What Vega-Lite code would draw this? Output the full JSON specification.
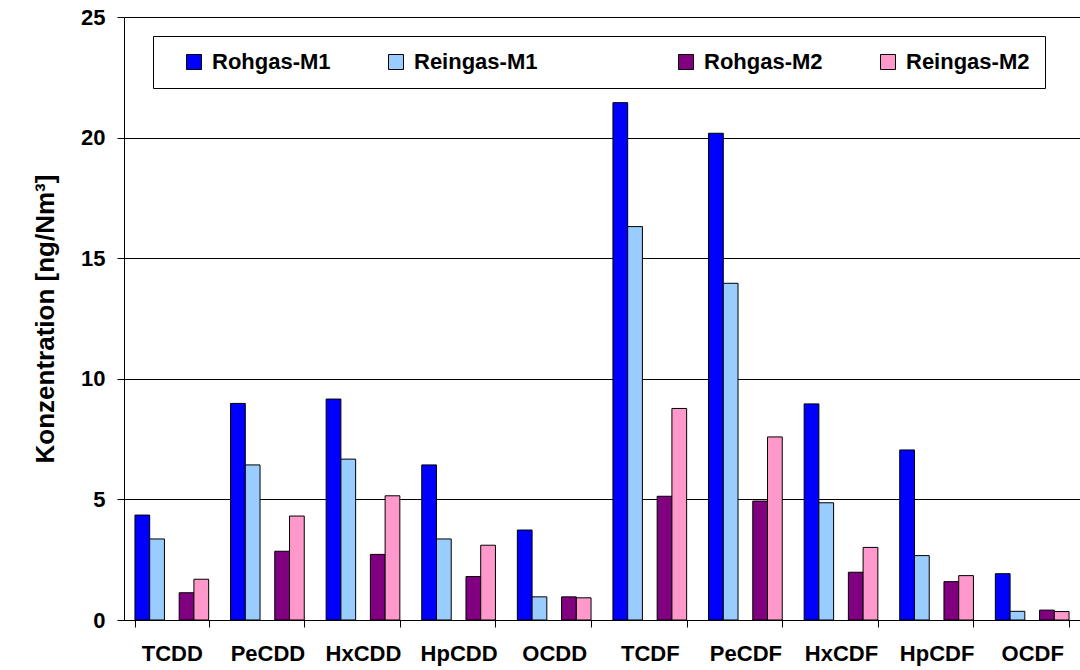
{
  "$schema": "https://vega.github.io/schema/vega-lite/v6.json",
  "width": 956,
  "height": 603,
  "autosize": {"type": "none"},
  "padding": {"left": 124, "top": 17, "right": 0, "bottom": 50},
  "background": "white",
  "config": {"view": {"stroke": null}, "font": "Liberation Sans"},
  "data": {"values": [
    {"cat": "TCDD", "series": "Rohgas-M1", "value": 4.35},
    {"cat": "TCDD", "series": "Reingas-M1", "value": 3.36},
    {"cat": "TCDD", "series": "Rohgas-M2", "value": 1.13},
    {"cat": "TCDD", "series": "Reingas-M2", "value": 1.69},
    {"cat": "PeCDD", "series": "Rohgas-M1", "value": 8.98},
    {"cat": "PeCDD", "series": "Reingas-M1", "value": 6.43},
    {"cat": "PeCDD", "series": "Rohgas-M2", "value": 2.85},
    {"cat": "PeCDD", "series": "Reingas-M2", "value": 4.31},
    {"cat": "HxCDD", "series": "Rohgas-M1", "value": 9.16},
    {"cat": "HxCDD", "series": "Reingas-M1", "value": 6.67},
    {"cat": "HxCDD", "series": "Rohgas-M2", "value": 2.72},
    {"cat": "HxCDD", "series": "Reingas-M2", "value": 5.15},
    {"cat": "HpCDD", "series": "Rohgas-M1", "value": 6.43},
    {"cat": "HpCDD", "series": "Reingas-M1", "value": 3.36},
    {"cat": "HpCDD", "series": "Rohgas-M2", "value": 1.80},
    {"cat": "HpCDD", "series": "Reingas-M2", "value": 3.10},
    {"cat": "OCDD", "series": "Rohgas-M1", "value": 3.73},
    {"cat": "OCDD", "series": "Reingas-M1", "value": 0.96},
    {"cat": "OCDD", "series": "Rohgas-M2", "value": 0.96},
    {"cat": "OCDD", "series": "Reingas-M2", "value": 0.92},
    {"cat": "TCDF", "series": "Rohgas-M1", "value": 21.45},
    {"cat": "TCDF", "series": "Reingas-M1", "value": 16.31},
    {"cat": "TCDF", "series": "Rohgas-M2", "value": 5.13},
    {"cat": "TCDF", "series": "Reingas-M2", "value": 8.77},
    {"cat": "PeCDF", "series": "Rohgas-M1", "value": 20.18},
    {"cat": "PeCDF", "series": "Reingas-M1", "value": 13.96},
    {"cat": "PeCDF", "series": "Rohgas-M2", "value": 4.93},
    {"cat": "PeCDF", "series": "Reingas-M2", "value": 7.59},
    {"cat": "HxCDF", "series": "Rohgas-M1", "value": 8.96},
    {"cat": "HxCDF", "series": "Reingas-M1", "value": 4.86},
    {"cat": "HxCDF", "series": "Rohgas-M2", "value": 1.98},
    {"cat": "HxCDF", "series": "Reingas-M2", "value": 3.01},
    {"cat": "HpCDF", "series": "Rohgas-M1", "value": 7.05},
    {"cat": "HpCDF", "series": "Reingas-M1", "value": 2.67},
    {"cat": "HpCDF", "series": "Rohgas-M2", "value": 1.59},
    {"cat": "HpCDF", "series": "Reingas-M2", "value": 1.84},
    {"cat": "OCDF", "series": "Rohgas-M1", "value": 1.92},
    {"cat": "OCDF", "series": "Reingas-M1", "value": 0.36},
    {"cat": "OCDF", "series": "Rohgas-M2", "value": 0.41},
    {"cat": "OCDF", "series": "Reingas-M2", "value": 0.35}
  ]},
  "mark": {"type": "bar", "stroke": "#000", "strokeWidth": 1},
  "encoding": {
    "x": {
      "field": "cat", "type": "nominal",
      "sort": ["TCDD", "PeCDD", "HxCDD", "HpCDD", "OCDD", "TCDF", "PeCDF", "HxCDF", "HpCDF", "OCDF"],
      "scale": {"paddingInner": 0.229, "paddingOuter": 0.1146},
      "axis": {
        "title": null, "labelAngle": 0, "labelFontSize": 22, "labelFontWeight": "bold",
        "labelColor": "#000", "tickBand": "extent", "tickSize": 7, "tickColor": "#000",
        "domainColor": "#000", "labelPadding": 16, "grid": false
      }
    },
    "xOffset": {
      "field": "series", "type": "nominal",
      "scale": {"domain": ["Rohgas-M1", "Reingas-M1", "gap", "Rohgas-M2", "Reingas-M2"], "paddingInner": 0, "paddingOuter": 0}
    },
    "y": {
      "field": "value", "type": "quantitative",
      "scale": {"domain": [0, 25], "nice": false},
      "axis": {
        "title": "Konzentration [ng/Nm³]", "titleFontSize": 26, "titleFontWeight": "bold",
        "titleColor": "#000", "titlePadding": 22, "values": [0, 5, 10, 15, 20, 25],
        "gridColor": "#000", "gridWidth": 1, "tickSize": 7, "tickColor": "#000",
        "domainColor": "#000", "labelFontSize": 22, "labelFontWeight": "bold",
        "labelColor": "#000", "labelPadding": 12
      }
    },
    "color": {
      "field": "series", "type": "nominal",
      "scale": {
        "domain": ["Rohgas-M1", "Reingas-M1", "gap", "Rohgas-M2", "Reingas-M2"],
        "range": ["#0000FF", "#99CCFF", "#FFFFFF", "#800080", "#FF99CC"]
      },
      "legend": {
        "orient": "none", "legendX": 29, "legendY": 19, "direction": "horizontal",
        "title": null, "fillColor": "white", "strokeColor": "#000", "padding": 15,
        "symbolType": "square", "symbolSize": 225, "symbolStrokeColor": "#000",
        "symbolStrokeWidth": 1, "symbolOffset": 15, "labelOffset": 7, "columnPadding": 39,
        "labelFontSize": 22, "labelFontWeight": "bold", "labelColor": "#000", "labelLimit": 300,
        "labelExpr": "datum.value == 'gap' ? '' : datum.label",
        "encode": {"symbols": {"update": {"opacity": {"signal": "datum.value == 'gap' ? 0 : 1"}}}}
      }
    }
  }
}
